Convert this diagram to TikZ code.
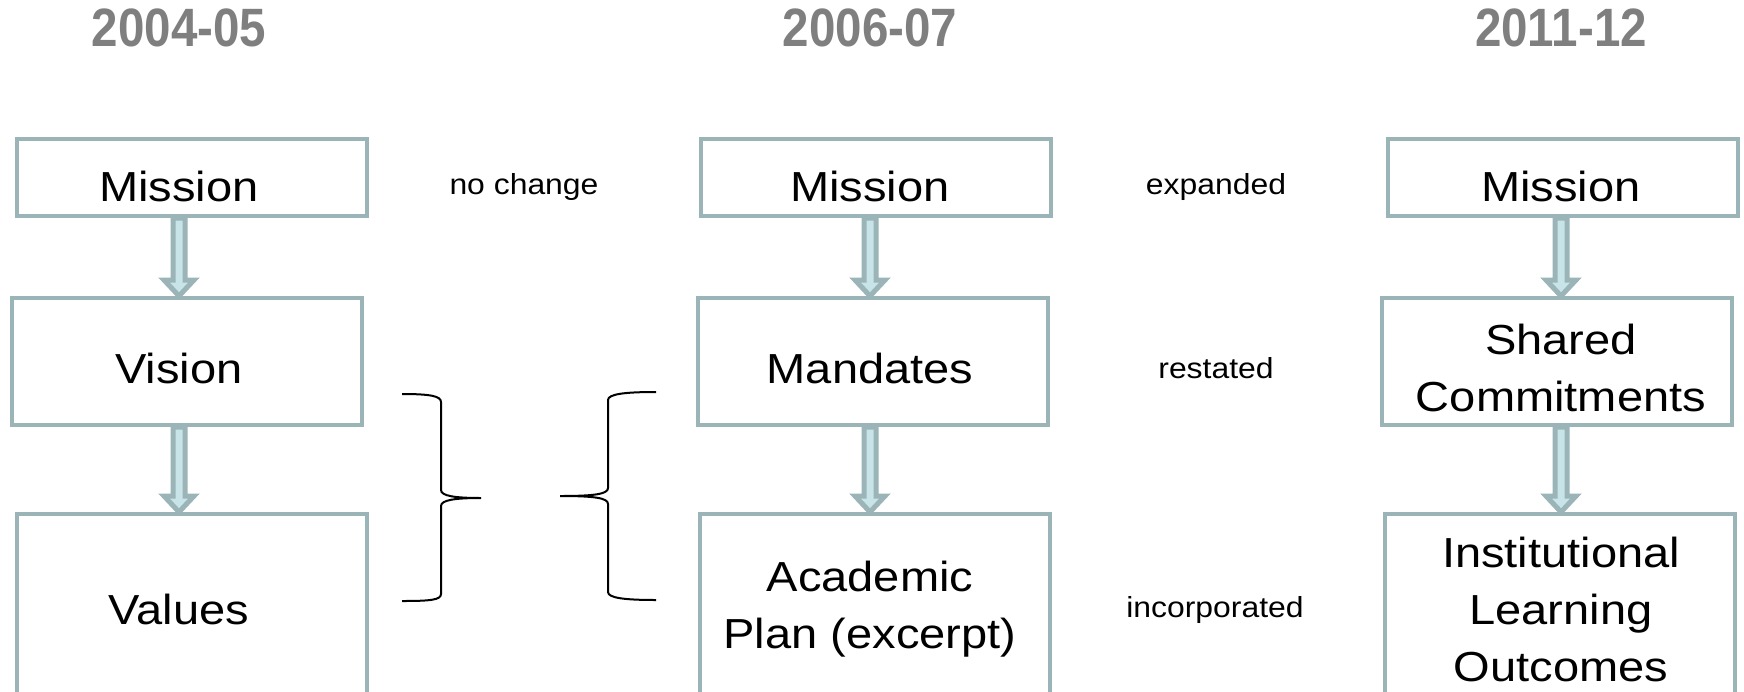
\documentclass[tikz,border=0pt]{standalone}
\usepackage{fontspec}
\setmainfont{Liberation Sans}
\newfontfamily\boxfont[FakeStretch=1.12]{Liberation Sans}
\newfontfamily\notefont[FakeStretch=1.1]{Liberation Sans}
\newfontfamily\yearfont[FakeStretch=0.88]{Liberation Sans}
\usetikzlibrary{calc}
\definecolor{boxline}{RGB}{155,180,183}
\definecolor{arrowfill}{RGB}{200,228,232}
\definecolor{yeargray}{RGB}{127,127,127}

\begin{document}
\begin{tikzpicture}[x=0.5pt,y=-0.5pt,
            box_style/.style={draw=boxline, line width=2pt, minimum width=175pt, inner sep=0pt},
            text_style/.style={align=center, inner sep=0pt, font=\boxfont\fontsize{21}{28.5}\selectfont},
            year_style/.style={text=yeargray, font=\yearfont\fontsize{27}{30}\selectfont\bfseries},
            note_style/.style={font=\notefont\fontsize{14.5}{18}\selectfont},
            flow_arrow/.style={draw=boxline, fill=arrowfill, line width=2.5pt, line join=miter,
                to path={let \p1=(\tikztostart.south -| #1), \p2=(\tikztotarget.north -| #1) in
                (\x1-3pt,\y1) -- (\x2-3pt,\y2+8pt) -- (\x2-7.5pt,\y2+8pt) -- (\p2)
                -- (\x2+7.5pt,\y2+8pt) -- (\x2+3pt,\y2+8pt) -- (\x1+3pt,\y1) -- cycle}},
            brace_style/.style={draw=black, line width=1pt}]
            \useasboundingbox (0,0) rectangle (1744,691);
            \clip (0,0) rectangle (1744,691);
            % years
            \node[year_style] (y1) at (179,28) {2004-05};
            \node[year_style] (y2) at (870,28) {2006-07};
            \node[year_style] (y3) at (1561,28) {2011-12};
            % 2004-05
            \node[box_style, minimum height=38.5pt] (mis1) at (191.5,177.5) {};
            \node[box_style, minimum height=63.5pt] (vis1) at (187,361.5) {};
            \node[box_style, minimum height=95pt] (val1) at (191.5,609) {};
            \node[text_style] (mis1_txt) at (179,186) {Mission};
            \node[text_style] (vis1_txt) at (179,368) {Vision};
            \node[text_style] (val1_txt) at (179,609) {Values};
            % 2006-07
            \node[box_style, minimum height=38.5pt] (mis2) at (875.5,177.5) {};
            \node[box_style, minimum height=63.5pt] (man2) at (872.5,361.5) {};
            \node[box_style, minimum height=95pt] (aca2) at (875,609) {};
            \node[text_style] (mis2_txt) at (870,186) {Mission};
            \node[text_style] (man2_txt) at (870,368) {Mandates};
            \node[text_style] (aca2_txt) at (870,609) {Academic\\Plan (excerpt)};
            % 2011-12
            \node[box_style, minimum height=38.5pt] (mis3) at (1563,177.5) {};
            \node[box_style, minimum height=63.5pt] (sha3) at (1556.5,361.5) {};
            \node[box_style, minimum height=95pt] (ilo3) at (1560,609) {};
            \node[text_style] (mis3_txt) at (1561,186) {Mission};
            \node[text_style] (sha3_txt) at (1561,368) {Shared\\Commitments};
            \node[text_style] (ilo3_txt) at (1561,609) {Institutional\\Learning\\Outcomes};
            % changes
            \node[note_style] (n1) at (524,187) {no change};
            \node[note_style] (n2) at (1216,187) {expanded};
            \node[note_style] (n3) at (1216,368) {restated};
            \node[note_style] (n4) at (1215,610) {incorporated};
            \path (mis1) edge[flow_arrow=y1] (vis1);
            \path (vis1) edge[flow_arrow=y1] (val1);
            \path (mis2) edge[flow_arrow=y2] (man2);
            \path (man2) edge[flow_arrow=y2] (aca2);
            \path (mis3) edge[flow_arrow=y3] (sha3);
            \path (sha3) edge[flow_arrow=y3] (ilo3);
            % braces
            \draw[brace_style] (402,394) .. controls (430,394) and (441,396) .. (441,402) -- (441,490)
                .. controls (441,496) and (455,498) .. (481,498)
                .. controls (455,498) and (441,500) .. (441,506) -- (441,594)
                .. controls (441,600) and (430,601) .. (402,601);
            \draw[brace_style] (656,392) .. controls (625,392) and (608,394) .. (608,400) -- (608,488)
                .. controls (608,494) and (595,496) .. (560,496)
                .. controls (595,496) and (608,498) .. (608,504) -- (608,592)
                .. controls (608,598) and (625,600) .. (656,600);
        \end{tikzpicture}
\end{document}
